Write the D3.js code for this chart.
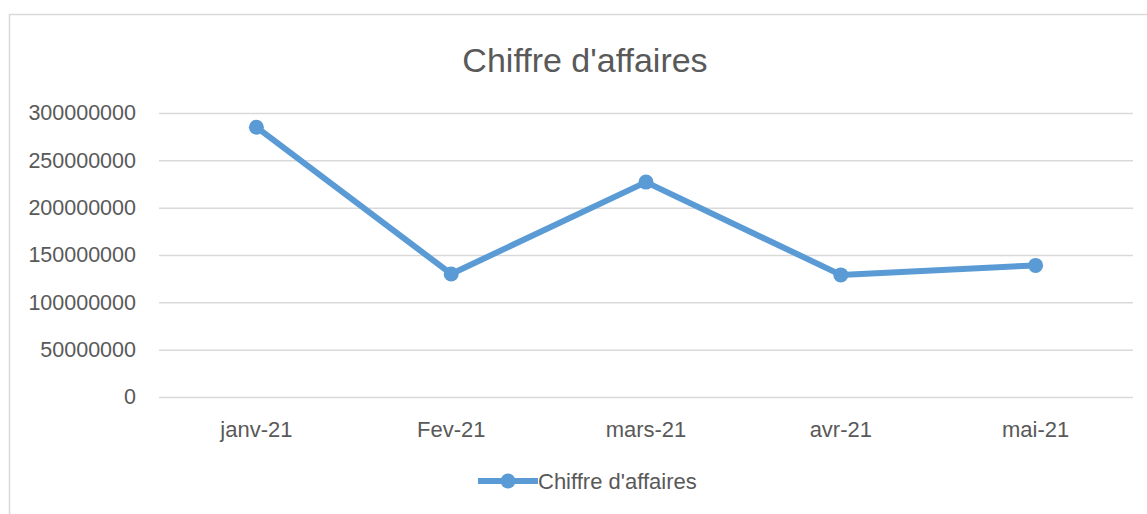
<!DOCTYPE html>
<html>
<head>
<meta charset="utf-8">
<script src="https://cdn.jsdelivr.net/npm/d3@7"></script>
<style>
  body { margin: 0; background: #fff; }
  text { font-family: "Liberation Sans", Arial, sans-serif; fill: #595959; }
</style>
</head>
<body>
<div class="chart"></div>
<script>
var months = ["janv-21", "Fev-21", "mars-21", "avr-21", "mai-21"];
var sales = [285000000, 130000000, 227000000, 129000000, 139000000];
var yTicks = [0, 50000000, 100000000, 150000000, 200000000, 250000000, 300000000];
var seriesName = "Chiffre d'affaires";

var W = 1147, H = 514;
var plot = { left: 159, right: 1133, top: 113, bottom: 397 };
var blue = "#5b9bd5";

var svg = d3.select(".chart")
	.append("svg")
	.attr("width", W)
	.attr("height", H);

// chart area frame
svg.append("rect")
	.attr("x", 9.5)
	.attr("y", 14.5)
	.attr("width", W + 20)
	.attr("height", H + 20)
	.attr("fill", "none")
	.attr("stroke", "#d9d9d9")
	.attr("stroke-width", 1.5);

var x = d3.scaleBand()
	.domain(months)
	.range([plot.left, plot.right]);

var y = d3.scaleLinear()
	.domain([0, 300000000])
	.range([plot.bottom, plot.top]);

// gridlines + y labels
var yAxis = svg.append("g")
	.attr("transform", "translate(" + plot.left + ",0)")
	.call(d3.axisLeft(y)
		.tickValues(yTicks)
		.tickFormat(d3.format("d"))
		.tickSize(-(plot.right - plot.left))
		.tickPadding(23));

yAxis.select(".domain").remove();
yAxis.selectAll("line")
	.attr("stroke", "#d9d9d9")
	.attr("stroke-width", 1.5);
yAxis.selectAll("text")
	.attr("font-size", 21.5)
	.attr("fill", "#595959")
	.style("font-family", "Liberation Sans, Arial, sans-serif");

// x labels
var xAxis = svg.append("g")
	.attr("transform", "translate(0," + plot.bottom + ")")
	.call(d3.axisBottom(x).tickSize(0).tickPadding(24));

xAxis.select(".domain").remove();
xAxis.selectAll("text")
	.attr("font-size", 22)
	.attr("fill", "#595959")
	.style("font-family", "Liberation Sans, Arial, sans-serif");

// title
svg.append("text")
	.attr("x", 585)
	.attr("y", 72)
	.attr("text-anchor", "middle")
	.attr("font-size", 34)
	.text(seriesName);

var cx = function(d, i){ return x(months[i]) + x.bandwidth() / 2; };

var line = d3.line()
	.x(cx)
	.y(function(d){ return y(d); });

svg.append("path")
	.datum(sales)
	.attr("d", line)
	.attr("fill", "none")
	.attr("stroke", blue)
	.attr("stroke-width", 6)
	.attr("stroke-linejoin", "round");

svg.selectAll("circle.pt")
	.data(sales)
	.enter()
	.append("circle")
		.attr("class", "pt")
		.attr("cx", cx)
		.attr("cy", function(d){ return y(d); })
		.attr("r", 7.5)
		.attr("fill", blue);

// legend
var lg = svg.append("g").attr("transform", "translate(478,481)");
lg.append("line")
	.attr("x1", 0).attr("x2", 60)
	.attr("stroke", blue)
	.attr("stroke-width", 6);
lg.append("circle")
	.attr("cx", 30)
	.attr("r", 7.5)
	.attr("fill", blue);
lg.append("text")
	.attr("x", 60)
	.attr("y", 8)
	.attr("font-size", 22)
	.text(seriesName);
</script>
</body>
</html>
